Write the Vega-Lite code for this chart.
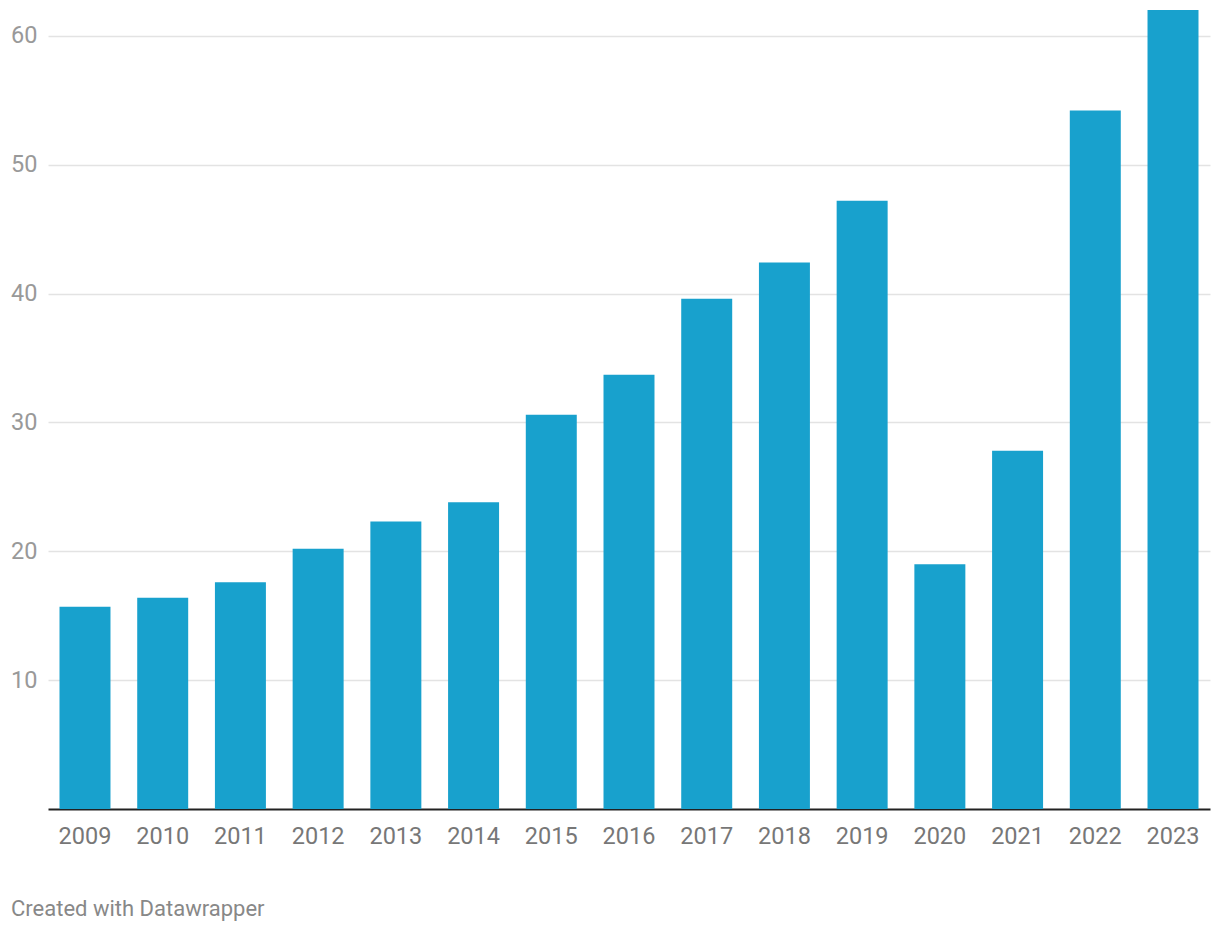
{
  "$schema": "https://vega.github.io/schema/vega-lite/v6.json",
  "width": 1162,
  "height": 799,
  "autosize": {"type": "none"},
  "padding": {"left": 48, "top": 10, "right": 10, "bottom": 123},
  "background": "white",
  "title": {
    "text": "Created with Datawrapper",
    "orient": "bottom",
    "anchor": "start",
    "frame": "group",
    "dx": -37,
    "offset": 51,
    "font": "Roboto",
    "fontSize": 22,
    "fontWeight": "normal",
    "color": "#888888"
  },
  "data": {
    "values": [
      {"year": "2009", "value": 15.7},
      {"year": "2010", "value": 16.4},
      {"year": "2011", "value": 17.6},
      {"year": "2012", "value": 20.2},
      {"year": "2013", "value": 22.3},
      {"year": "2014", "value": 23.8},
      {"year": "2015", "value": 30.6},
      {"year": "2016", "value": 33.7},
      {"year": "2017", "value": 39.6},
      {"year": "2018", "value": 42.4},
      {"year": "2019", "value": 47.2},
      {"year": "2020", "value": 19.0},
      {"year": "2021", "value": 27.8},
      {"year": "2022", "value": 54.2},
      {"year": "2023", "value": 62.0}
    ]
  },
  "mark": {"type": "bar", "color": "#18a1cd"},
  "encoding": {
    "x": {
      "field": "year",
      "type": "ordinal",
      "scale": {"paddingInner": 0.344, "paddingOuter": 0.148},
      "axis": {
        "title": null,
        "labelAngle": 0,
        "labelFont": "Roboto",
        "labelFontSize": 23.5,
        "labelColor": "#777777",
        "labelPadding": 15,
        "ticks": false,
        "domain": true,
        "domainColor": "#222222",
        "domainWidth": 2,
        "grid": false
      }
    },
    "y": {
      "field": "value",
      "type": "quantitative",
      "scale": {"domain": [0, 62], "nice": false},
      "axis": {
        "title": null,
        "values": [10, 20, 30, 40, 50, 60],
        "labelFont": "Roboto",
        "labelFontSize": 23.5,
        "labelColor": "#999999",
        "labelPadding": 11,
        "ticks": false,
        "domain": false,
        "grid": true,
        "gridColor": "#e3e3e3",
        "gridWidth": 1.5
      }
    }
  },
  "config": {"view": {"stroke": null}}
}
